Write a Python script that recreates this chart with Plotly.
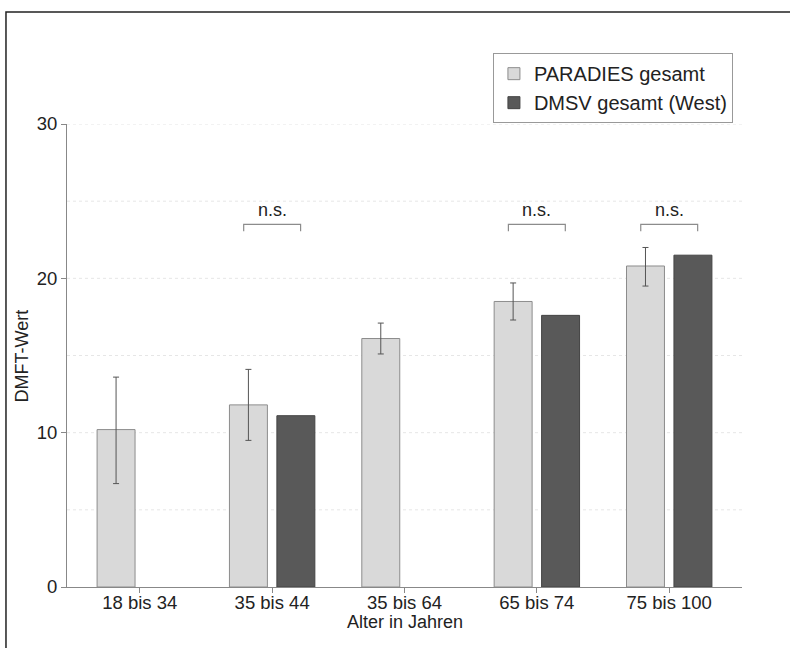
import plotly.graph_objects as go

categories = ["18 bis 34", "35 bis 44", "35 bis 64", "65 bis 74", "75 bis 100"]
paradies = [10.2, 11.8, 16.1, 18.5, 20.8]
paradies_err_plus = [3.4, 2.3, 1.0, 1.2, 1.2]
paradies_err_minus = [3.5, 2.3, 1.0, 1.2, 1.3]
dmsv = [None, 11.1, None, 17.6, 21.5]
ns_groups = [1, 3, 4]
ns_level = 23.5
ns_drop = 0.45
ns_text_level = 24.45

x_idx = list(range(len(categories)))
FONT = "Liberation Sans, Arial, sans-serif"

fig = go.Figure()
fig.add_trace(go.Bar(
    x=x_idx, y=paradies, name="PARADIES gesamt",
    marker=dict(color="#d9d9d9", line=dict(color="#8c8c8c", width=1)),
    error_y=dict(type="data", symmetric=False, array=paradies_err_plus,
                 arrayminus=paradies_err_minus, color="#555555", thickness=1, width=3),
))
fig.add_trace(go.Bar(
    x=x_idx, y=dmsv, name="DMSV gesamt (West)",
    marker=dict(color="#595959", line=dict(color="#444444", width=1)),
))

off = 0.215
for g in ns_groups:
    fig.add_shape(type="path", xref="x", yref="y",
                  path=f"M {g-off},{ns_level-ns_drop} L {g-off},{ns_level} L {g+off},{ns_level} L {g+off},{ns_level-ns_drop}",
                  line=dict(color="#8c8c8c", width=1.2))
    fig.add_annotation(x=g, y=ns_text_level, xref="x", yref="y", text="n.s.",
                       showarrow=False, font=dict(size=18, color="#222", family=FONT),
                       yanchor="middle")

# axis titles
fig.add_annotation(x=0.5, y=-0.076, xref="paper", yref="paper", text="Alter in Jahren",
                   showarrow=False, font=dict(size=18, color="#222", family=FONT),
                   xanchor="center", yanchor="middle")
fig.add_annotation(x=-0.0667, y=0.5, xref="paper", yref="paper", text="DMFT-Wert",
                   showarrow=False, textangle=-90, font=dict(size=18, color="#222", family=FONT),
                   xanchor="center", yanchor="middle")

# outer frame
fig.add_shape(type="rect", xref="paper", yref="paper", x0=-0.0904, y0=-0.3, x1=1.2, y1=1.242,
              line=dict(color="#222", width=1.5), layer="below")

fig.update_layout(
    width=790, height=648,
    margin=dict(l=67, r=48, t=124, b=61),
    paper_bgcolor="white", plot_bgcolor="white",
    barmode="group", bargap=0.283, bargroupgap=0.2,
    font=dict(family=FONT, size=18, color="#222"),
    showlegend=True,
    legend=dict(x=0.631, y=1.153, xanchor="left", yanchor="top",
                bordercolor="#999", borderwidth=1, bgcolor="white",
                font=dict(size=20, family=FONT, color="#222"),
                itemwidth=30, tracegroupgap=0),
    xaxis=dict(range=[-0.55, 4.55], tickmode="array", tickvals=x_idx, ticktext=categories,
               showline=True, linecolor="#888", linewidth=1, ticks="outside", ticklen=5,
               tickcolor="#888", showgrid=False, zeroline=False, ticklabelstandoff=-6,
               tickfont=dict(size=18.5)),
    yaxis=dict(range=[0, 30], tickvals=[0, 10, 20, 30], showline=True, linecolor="#888",
               linewidth=1, ticks="outside", ticklen=5, tickcolor="#888",
               showgrid=False, zeroline=False, tickfont=dict(size=18.5)),
)
# dotted gridlines every 5
for v in [5, 10, 15, 20, 25, 30]:
    fig.add_shape(type="line", xref="paper", yref="y", x0=0, x1=1, y0=v, y1=v,
                  line=dict(color="#e6e6e6", width=1, dash="dot"), layer="below")

fig.write_html("out.html")
